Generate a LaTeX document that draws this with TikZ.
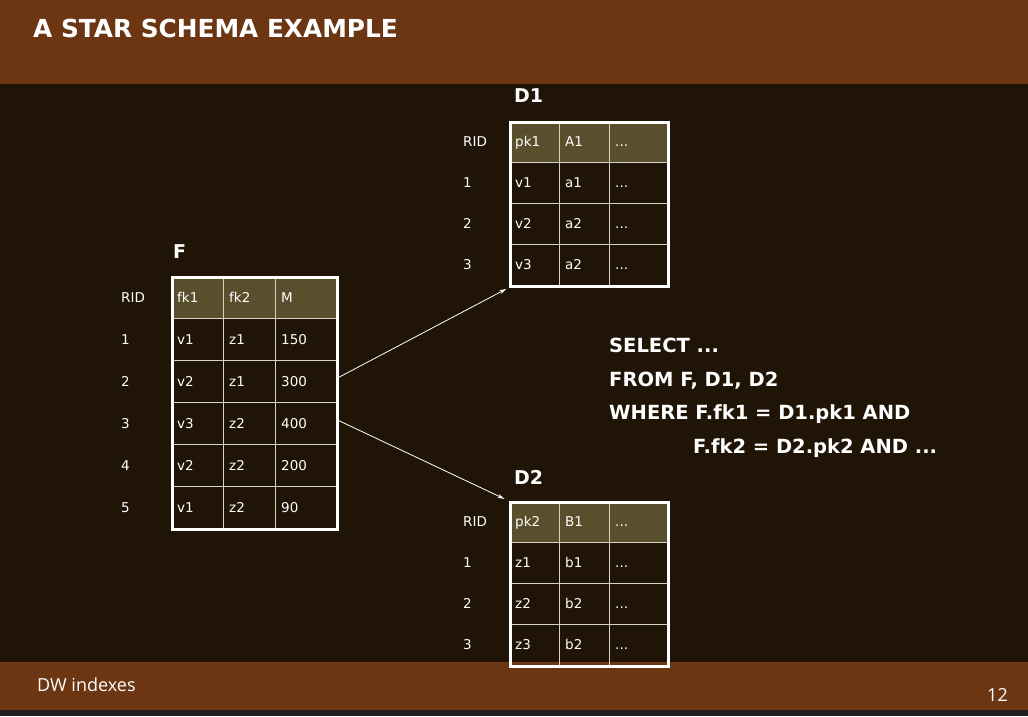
\documentclass[tikz,border=0pt]{standalone}
\usepackage{fontspec}
\setmainfont{DejaVu Sans}
\newfontfamily\footfont{Open Sans}
\usetikzlibrary{arrows.meta}
\definecolor{band}{RGB}{108,54,19}
\definecolor{bgc}{RGB}{31,20,5}
\definecolor{hdr}{RGB}{90,79,44}
\definecolor{strip}{RGB}{32,32,32}
\definecolor{gridc}{RGB}{215,212,200}
\begin{document}
\begin{tikzpicture}[x=1pt,y=-1pt,
  cell/.style={anchor=west,inner sep=0pt,text=white,text height=10pt,text depth=0pt,font=\fontsize{13.5}{15}\selectfont},
  tlabel/.style={anchor=west,inner sep=0pt,text=white,font=\bfseries\fontsize{19}{22}\selectfont},
  sql/.style={anchor=west,inner sep=0pt,text=white,text height=14pt,text depth=0pt,font=\bfseries\fontsize{19.5}{22}\selectfont},
  innerline/.style={draw=gridc,line width=1pt},
  outerbox/.style={draw=white,line width=2.5pt,inner sep=0pt,anchor=north west},
  link/.style={draw=white,line width=0.8pt,-{Stealth[length=7pt,width=4pt]}}]
\useasboundingbox (0,0) rectangle (1028,716);
\fill[bgc] (0,0) rectangle (1028,716);
\fill[band] (0,0) rectangle (1028,84);
\node[anchor=west,inner sep=0pt,text=white,font=\bfseries\fontsize{24.8}{27}\selectfont] (title) at (33,28) {A STAR SCHEMA EXAMPLE};
% ---------- table F ----------
\fill[hdr] (171,276) rectangle (336,318);
\foreach \yy in {318,360,402,444,486} \draw[innerline] (171,\yy) -- (336,\yy);
\foreach \xx in {223,275} \draw[innerline] (\xx,276) -- (\xx,528);
\node[outerbox,minimum width=165pt,minimum height=252pt] (Ftab) at (171,276) {};
\node[tlabel] (Flabel) at (173,252) {F};
\node[cell] (F-rid) at (121,297) {RID};
\node[cell] (F-h1) at (177,297) {fk1};
\node[cell] (F-h2) at (229,297) {fk2};
\node[cell] (F-h3) at (281,297) {M};
\foreach \r/\a/\b/\c [count=\i] in {1/v1/z1/150,2/v2/z1/300,3/v3/z2/400,4/v2/z2/200,5/v1/z2/90}{
  \pgfmathsetmacro{\yc}{297+42*\i}
  \node[cell] (F-\i-0) at (121,\yc) {\r};
  \node[cell] (F-\i-1) at (177,\yc) {\a};
  \node[cell] (F-\i-2) at (229,\yc) {\b};
  \node[cell] (F-\i-3) at (281,\yc) {\c};
}
% ---------- table D1 ----------
\fill[hdr] (509,121) rectangle (667,162);
\foreach \yy in {162,203,244} \draw[innerline] (509,\yy) -- (667,\yy);
\foreach \xx in {559,609} \draw[innerline] (\xx,121) -- (\xx,285);
\node[outerbox,minimum width=158pt,minimum height=164pt] (D1tab) at (509,121) {};
\node[tlabel] (D1label) at (514,96) {D1};
\node[cell] (D1-rid) at (463,141.5) {RID};
\node[cell] (D1-h1) at (515,141.5) {pk1};
\node[cell] (D1-h2) at (565,141.5) {A1};
\node[cell] (D1-h3) at (615,141.5) {...};
\foreach \r/\a/\b [count=\i] in {1/v1/a1,2/v2/a2,3/v3/a2}{
  \pgfmathsetmacro{\yc}{141.5+41*\i}
  \node[cell] (D1-\i-0) at (463,\yc) {\r};
  \node[cell] (D1-\i-1) at (515,\yc) {\a};
  \node[cell] (D1-\i-2) at (565,\yc) {\b};
  \node[cell] (D1-\i-3) at (615,\yc) {...};
}
% ---------- footer ----------
\fill[band] (0,662) rectangle (1028,710);
\fill[strip] (0,710) rectangle (1028,716);
\node[anchor=west,inner sep=0pt,text=white,font=\footfont\fontsize{18}{20}\selectfont] (foot) at (37,685) {DW indexes};
\node[anchor=east,inner sep=0pt,text=white,font=\footfont\fontsize{18}{20}\selectfont] (page) at (1008,695) {12};
% ---------- table D2 ----------
\fill[hdr] (509,501) rectangle (667,542);
\foreach \yy in {542,583,624} \draw[innerline] (509,\yy) -- (667,\yy);
\foreach \xx in {559,609} \draw[innerline] (\xx,501) -- (\xx,665);
\node[outerbox,minimum width=158pt,minimum height=164pt] (D2tab) at (509,501) {};
\node[tlabel] (D2label) at (514,477) {D2};
\node[cell] (D2-rid) at (463,521.5) {RID};
\node[cell] (D2-h1) at (515,521.5) {pk2};
\node[cell] (D2-h2) at (565,521.5) {B1};
\node[cell] (D2-h3) at (615,521.5) {...};
\foreach \r/\a/\b [count=\i] in {1/z1/b1,2/z2/b2,3/z3/b2}{
  \pgfmathsetmacro{\yc}{521.5+41*\i}
  \node[cell] (D2-\i-0) at (463,\yc) {\r};
  \node[cell] (D2-\i-1) at (515,\yc) {\a};
  \node[cell] (D2-\i-2) at (565,\yc) {\b};
  \node[cell] (D2-\i-3) at (615,\yc) {...};
}
% ---------- connectors ----------
\coordinate (Fout1) at (337.5,378);
\coordinate (Fout2) at (337.5,420);
\draw[link,shorten >=3pt] (Fout1) -- (D1tab.south west);
\draw[link,shorten >=5pt] (Fout2) -- (D2tab.north west);
% ---------- SQL ----------
\node[sql] (q1) at (609,345) {SELECT ...};
\node[sql] (q2) at (609,379) {FROM F, D1, D2};
\node[sql] (q3) at (609,412) {WHERE F.fk1 = D1.pk1 AND};
\node[sql] (q4) at (693,446) {F.fk2 = D2.pk2 AND ...};
\end{tikzpicture}
\end{document}
